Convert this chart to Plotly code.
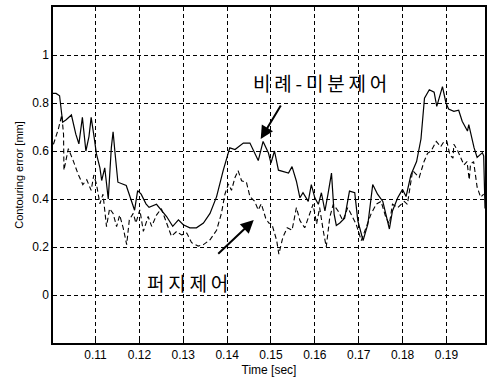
import plotly.graph_objects as go

# PD control (비례-미분제어), solid line
pd_t = [0.1003, 0.1010, 0.1018, 0.1025, 0.1033, 0.1045, 0.1055, 0.1062, 0.1070, 0.1078,
        0.1085, 0.1090, 0.1097, 0.1102, 0.1110, 0.1114, 0.1121, 0.1129, 0.1136, 0.1140,
        0.1144, 0.1151, 0.1170, 0.1178, 0.1189, 0.1196, 0.1204, 0.1215, 0.1222, 0.1239,
        0.1250, 0.1262, 0.1276, 0.1289, 0.1300, 0.1315, 0.1330, 0.1346, 0.1361, 0.1376,
        0.1391, 0.1406, 0.1418, 0.1437, 0.1452, 0.1461, 0.1471, 0.1482, 0.1494, 0.1500,
        0.1508, 0.1517, 0.1528, 0.1540, 0.1548, 0.1558, 0.1566, 0.1573, 0.1585, 0.1592,
        0.1600, 0.1608, 0.1615, 0.1623, 0.1630, 0.1638, 0.1644, 0.1649, 0.1657, 0.1668,
        0.1679, 0.1691, 0.1698, 0.1710, 0.1721, 0.1732, 0.1743, 0.1755, 0.1770, 0.1777,
        0.1789, 0.1800, 0.1808, 0.1819, 0.1832, 0.1842, 0.1850, 0.1861, 0.1872, 0.1878,
        0.1891, 0.1899, 0.1905, 0.1917, 0.1928, 0.1936, 0.1948, 0.1951, 0.1963, 0.1970,
        0.1982, 0.1985, 0.1988]
pd_err = [0.84, 0.84, 0.83, 0.72, 0.73, 0.75, 0.67, 0.63, 0.74, 0.60,
          0.66, 0.74, 0.655, 0.588, 0.53, 0.477, 0.53, 0.40, 0.614, 0.68,
          0.60, 0.47, 0.456, 0.415, 0.353, 0.435, 0.42, 0.38, 0.365, 0.378,
          0.354, 0.327, 0.286, 0.313, 0.293, 0.28, 0.28, 0.30, 0.34, 0.41,
          0.518, 0.613, 0.606, 0.633, 0.633, 0.60, 0.56, 0.64, 0.593, 0.55,
          0.60, 0.52, 0.515, 0.508, 0.535, 0.474, 0.405, 0.426, 0.39, 0.46,
          0.405, 0.378, 0.426, 0.35, 0.42, 0.508, 0.337, 0.29, 0.30, 0.32,
          0.433, 0.426, 0.31, 0.227, 0.296, 0.46, 0.42, 0.39, 0.275, 0.35,
          0.405, 0.44, 0.41, 0.50, 0.556, 0.65, 0.82, 0.855, 0.845, 0.786,
          0.868, 0.80, 0.775, 0.765, 0.77, 0.724, 0.683, 0.71, 0.614, 0.573,
          0.593, 0.58, 0.36]

# Fuzzy control (퍼지제어), dashed line
fz_t = [0.1004, 0.1015, 0.1023, 0.1027, 0.1028, 0.1038, 0.1049, 0.1060, 0.1071, 0.1080,
        0.1090, 0.1096, 0.1102, 0.1110, 0.1117, 0.1125, 0.1132, 0.1140, 0.1148, 0.1155,
        0.1163, 0.1171, 0.1177, 0.1186, 0.1192, 0.1201, 0.1209, 0.1220, 0.1228, 0.1239,
        0.1250, 0.1262, 0.1273, 0.1285, 0.1296, 0.1308, 0.1319, 0.1334, 0.1346, 0.1361,
        0.1376, 0.1387, 0.1395, 0.1403, 0.1410, 0.1418, 0.1425, 0.1433, 0.1444, 0.1452,
        0.1463, 0.1471, 0.1478, 0.1488, 0.1495, 0.1502, 0.1513, 0.1518, 0.1527, 0.1537,
        0.1548, 0.1558, 0.1566, 0.1577, 0.1585, 0.1596, 0.1604, 0.1611, 0.1619, 0.1626,
        0.1634, 0.1642, 0.1653, 0.1664, 0.1675, 0.1683, 0.1694, 0.1706, 0.1717, 0.1728,
        0.1740, 0.1751, 0.1762, 0.1770, 0.1777, 0.1789, 0.1804, 0.1811, 0.1823, 0.1838,
        0.1849, 0.1857, 0.1865, 0.1877, 0.1887, 0.1894, 0.1901, 0.1908, 0.1915, 0.1917,
        0.1925, 0.1940, 0.1947, 0.1952, 0.1955, 0.1962, 0.1970, 0.1978, 0.1985]
fz_err = [0.628, 0.69, 0.75, 0.67, 0.52, 0.61, 0.56, 0.505, 0.46, 0.48,
          0.436, 0.50, 0.463, 0.38, 0.42, 0.285, 0.36, 0.34, 0.285, 0.333,
          0.28, 0.21, 0.313, 0.34, 0.30, 0.355, 0.265, 0.327, 0.286, 0.333,
          0.36, 0.30, 0.245, 0.265, 0.25, 0.258, 0.218, 0.204, 0.21, 0.23,
          0.27, 0.34, 0.42, 0.463, 0.436, 0.49, 0.518, 0.476, 0.47, 0.41,
          0.39, 0.354, 0.38, 0.32, 0.30, 0.296, 0.227, 0.17, 0.24, 0.28,
          0.27, 0.364, 0.31, 0.28, 0.323, 0.378, 0.296, 0.364, 0.27, 0.20,
          0.323, 0.378, 0.35, 0.31, 0.364, 0.337, 0.296, 0.227, 0.28, 0.337,
          0.378, 0.39, 0.323, 0.296, 0.378, 0.364, 0.39, 0.378, 0.518, 0.49,
          0.556, 0.59, 0.60, 0.64, 0.618, 0.638, 0.64, 0.584, 0.57, 0.628,
          0.604, 0.542, 0.556, 0.48, 0.545, 0.556, 0.45, 0.408, 0.42]

x_ticks = [0.11, 0.12, 0.13, 0.14, 0.15, 0.16, 0.17, 0.18, 0.19]
x_labels = ["0.11", "0.12", "0.13", "0.14", "0.15", "0.16", "0.17", "0.18", "0.19"]
y_ticks = [0, 0.2, 0.4, 0.6, 0.8, 1]
y_labels = ["0", "0.2", "0.4", "0.6", "0.8", "1"]

fig = go.Figure()
fig.add_trace(go.Scatter(x=pd_t, y=pd_err, mode="lines",
                         line=dict(color="black", width=1.2), showlegend=False))
fig.add_trace(go.Scatter(x=fz_t, y=fz_err, mode="lines",
                         line=dict(color="black", width=1.1, dash="5px,3px"), showlegend=False))

tick_font = dict(family="Liberation Sans, Arial, sans-serif", size=12, color="black")
ax_common = dict(showgrid=True, gridcolor="black", gridwidth=1.2, griddash="4px,3px",
                 zeroline=False, showline=True, linecolor="black", linewidth=1.5,
                 mirror=True, ticks="inside", ticklen=4, tickcolor="black",
                 tickfont=tick_font)

fig.update_xaxes(range=[0.1003, 0.1988], tickvals=x_ticks, ticktext=x_labels,
                 title=dict(text="Time [sec]", font=dict(family="Liberation Sans, Arial", size=12, color="black"),
                            standoff=4),
                 **ax_common)
fig.update_yaxes(range=[-0.2, 1.2], tickvals=y_ticks, ticktext=y_labels,
                 title=dict(text="Contouring error [mm]", font=dict(family="Liberation Sans, Arial", size=11, color="black"),
                            standoff=6),
                 **ax_common)

kfont = dict(family="Noto Sans CJK KR", size=19, color="black")
sp = "\u2009"
pd_label = sp.join(list("비례-미분제어"))
fz_label = sp.join(list("퍼지제어"))
fig.add_annotation(x=0.16125, y=0.885, text=pd_label, showarrow=False, font=kfont)
fig.add_annotation(x=0.1309, y=0.052, text=fz_label, showarrow=False, font=kfont)
fig.add_annotation(x=0.14766, y=0.65, text="", showarrow=True, ax=21, ay=-35,
                   arrowhead=2, arrowsize=1.3, arrowwidth=2, arrowcolor="black")
fig.add_annotation(x=0.14607, y=0.312, text="", showarrow=True, ax=-37, ay=35,
                   arrowhead=2, arrowsize=1.3, arrowwidth=2, arrowcolor="black")

fig.update_layout(width=488, height=378, margin=dict(l=53, r=1, t=7, b=35),
                  paper_bgcolor="white", plot_bgcolor="white")
fig.write_html("out.html")
